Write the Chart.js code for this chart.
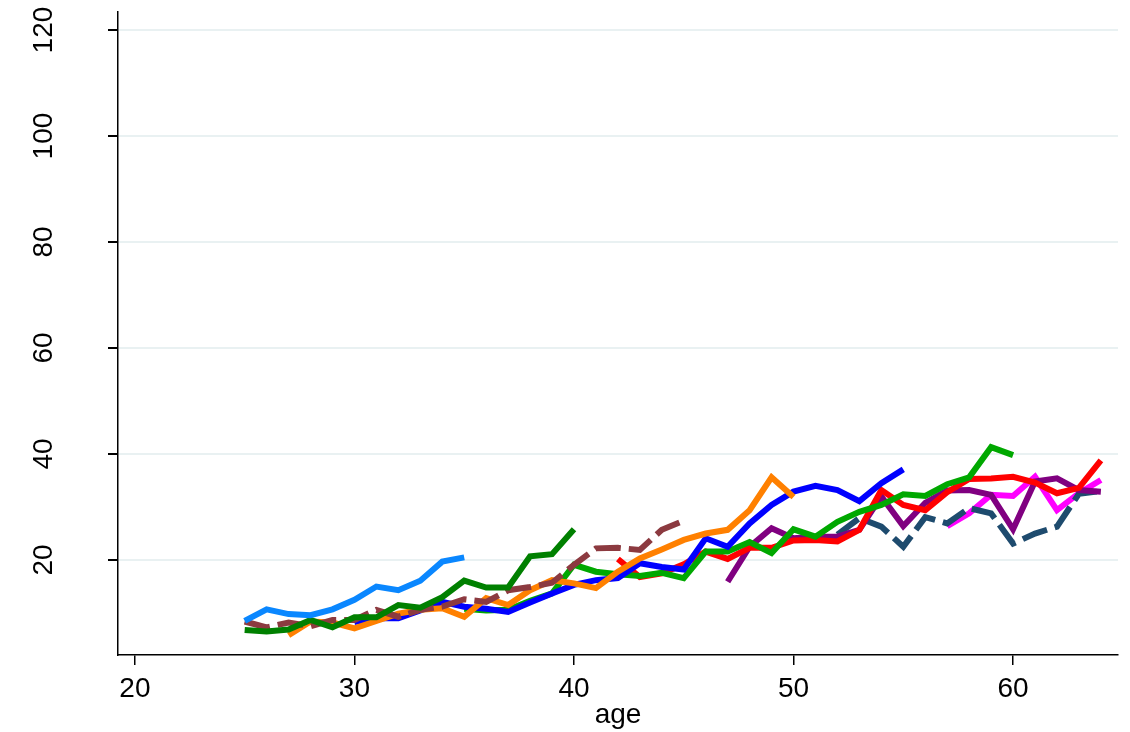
<!DOCTYPE html>
<html>
<head>
<meta charset="utf-8">
<script src="https://cdn.jsdelivr.net/npm/chart.js@4"></script>
<style>
  html, body { margin: 0; padding: 0; background: #fff; }
  #wrap { width: 1130px; height: 732px; }
</style>
</head>
<body>
<div id="wrap"><canvas id="chart" width="1130" height="732"></canvas></div>
<script>
// ages on the x axis
const ages = [25, 26, 27, 28, 29, 30, 31, 32, 33, 34, 35, 36, 37, 38, 39, 40, 41, 42, 43, 44,
              45, 46, 47, 48, 49, 50, 51, 52, 53, 54, 55, 56, 57, 58, 59, 60, 61, 62, 63, 64];

// one line per cohort, each starting at its own age
const cohort1 = [8.5, 10.7, 9.8, 9.6, 10.7, 12.5, 15.0, 14.3, 16.1, 19.7, 20.5];
const cohort2 = [6.8, 6.5, 6.9, 8.7, 7.3, 9.2, 9.2, 11.5, 11.0, 13.0, 16.1, 14.8, 14.8, 20.7, 21.1, 25.8];
const cohort3 = [8.4, 7.3, 8.2, 7.5, 8.7, 8.7, 10.6, 9.3, 10.6, 11.2, 12.6, 12.1, 14.3, 14.9, 15.7, 19.1,
                 22.2, 22.3, 21.9, 25.7, 27.4];
const cohort4 = [5.8, 8.4, 8.2, 7.1, 8.5, 9.9, 10.6, 10.9, 9.3, 12.8, 11.5, 14.3, 16.2, 15.6, 14.7, 17.8,
                 20.3, 22.0, 23.8, 25.0, 25.7, 29.4, 35.6, 31.9];
const cohort5 = [8.3, 9.0, 9.0, 10.5, 12.1, 11.2, 10.8, 10.2, 12.0, 13.7, 15.3, 16.2, 16.6, 19.4, 18.7,
                 18.2, 24.1, 22.5, 26.9, 30.4, 32.9, 34.0, 33.2, 31.1, 34.5, 37.1];
const cohort6 = [10.8, 10.5, 10.6, 12.3, 13.7, 19.1, 17.8, 17.3, 17.0, 17.6, 16.6, 21.6, 21.6, 23.4, 21.3,
                 25.8, 24.4, 27.2, 29.1, 30.4, 32.4, 32.1, 34.3, 35.6, 41.3, 39.8];
const cohort7 = [20.2, 16.8, 17.5, 19.2, 21.6, 20.2, 22.3, 22.3, 23.7, 23.8, 23.5, 25.7, 33.2, 30.4, 29.4,
                 32.8, 35.3, 35.4, 35.7, 34.6, 32.6, 33.6, 38.8];
const cohort8 = [15.9, 22.5, 26.0, 24.1, 24.4, 24.4, 25.7, 32.0, 26.4, 30.8, 33.1, 33.2, 32.3, 25.8, 34.8,
                 35.4, 33.2, 32.9];
const cohort9 = [24.8, 27.9, 26.3, 22.5, 28.1, 26.9, 29.8, 28.8, 23.1, 25.0, 26.3, 32.5, 33.0];
const cohort10 = [26.4, 28.8, 32.3, 32.1, 35.7, 29.4, 32.6, 35.1];

const startAges = [25, 25, 25, 27, 30, 35, 42, 47, 52, 57];
const cohorts = [cohort1, cohort2, cohort3, cohort4, cohort5, cohort6, cohort7, cohort8, cohort9, cohort10];
const colors = ['#0a87ff', '#008000', '#8c3a40', '#ff8000', '#0000ff', '#00a800', '#ff0000', '#800080', '#1e4b6e', '#ff00ff'];
const dashed = [false, false, true, false, false, false, false, false, true, false];

const xTicks = [20, 30, 40, 50, 60];
const yTicks = [20, 40, 60, 80, 100, 120];

const FONT = "'Liberation Sans', Arial, sans-serif";

const datasets = cohorts.map((vals, i) => {
  const first = ages.indexOf(startAges[i]);
  return {
    data: vals.map((v, j) => ({ x: ages[first + j], y: v })),
    borderColor: colors[i],
    borderWidth: 6,
    borderDash: dashed[i] ? [26, 8] : [],
    borderCapStyle: 'butt',
    pointRadius: 0,
    tension: 0,
    fill: false
  };
});

// rotated y tick labels, reading upward as in the reference
const yLabels = {
  id: 'yLabels',
  afterDraw(chart) {
    const y = chart.scales.y;
    const ctx = chart.ctx;
    ctx.save();
    ctx.fillStyle = '#000';
    ctx.font = '28px ' + FONT;
    ctx.textAlign = 'center';
    ctx.textBaseline = 'alphabetic';
    yTicks.forEach(v => {
      ctx.save();
      ctx.translate(52, y.getPixelForValue(v));
      ctx.rotate(-Math.PI / 2);
      ctx.fillText(String(v), 0, 0);
      ctx.restore();
    });
    ctx.restore();
  }
};

new Chart(document.getElementById('chart'), {
  type: 'line',
  data: { datasets: datasets },
  options: {
    responsive: false,
    animation: false,
    layout: { padding: { top: 12, right: 12, left: 0, bottom: 0 } },
    plugins: { legend: { display: false }, tooltip: { enabled: false }, title: { display: false } },
    scales: {
      x: {
        type: 'linear',
        min: 19.23,
        max: 64.78,
        afterBuildTicks: s => { s.ticks = xTicks.map(v => ({ value: v })); },
        afterFit: s => { s.height = 77; },
        border: { display: true, color: '#000', width: 1.5 },
        grid: { drawOnChartArea: false, drawTicks: true, tickLength: 10, tickColor: '#000', lineWidth: 1.5 },
        ticks: { color: '#000', font: { size: 28, family: FONT }, padding: 7, maxRotation: 0 },
        title: { display: true, text: 'age', color: '#000', font: { size: 28, family: FONT }, padding: { top: 0, bottom: 0 } }
      },
      y: {
        type: 'linear',
        min: 2.08,
        max: 123.4,
        afterBuildTicks: s => { s.ticks = yTicks.map(v => ({ value: v })); },
        afterFit: s => { s.width = 118; },
        border: { display: true, color: '#000', width: 1.5 },
        grid: { color: '#e9f1f2', lineWidth: 2, drawTicks: true, tickLength: 10, tickColor: '#000' },
        ticks: { display: false }
      }
    }
  },
  plugins: [yLabels]
});
</script>
</body>
</html>
